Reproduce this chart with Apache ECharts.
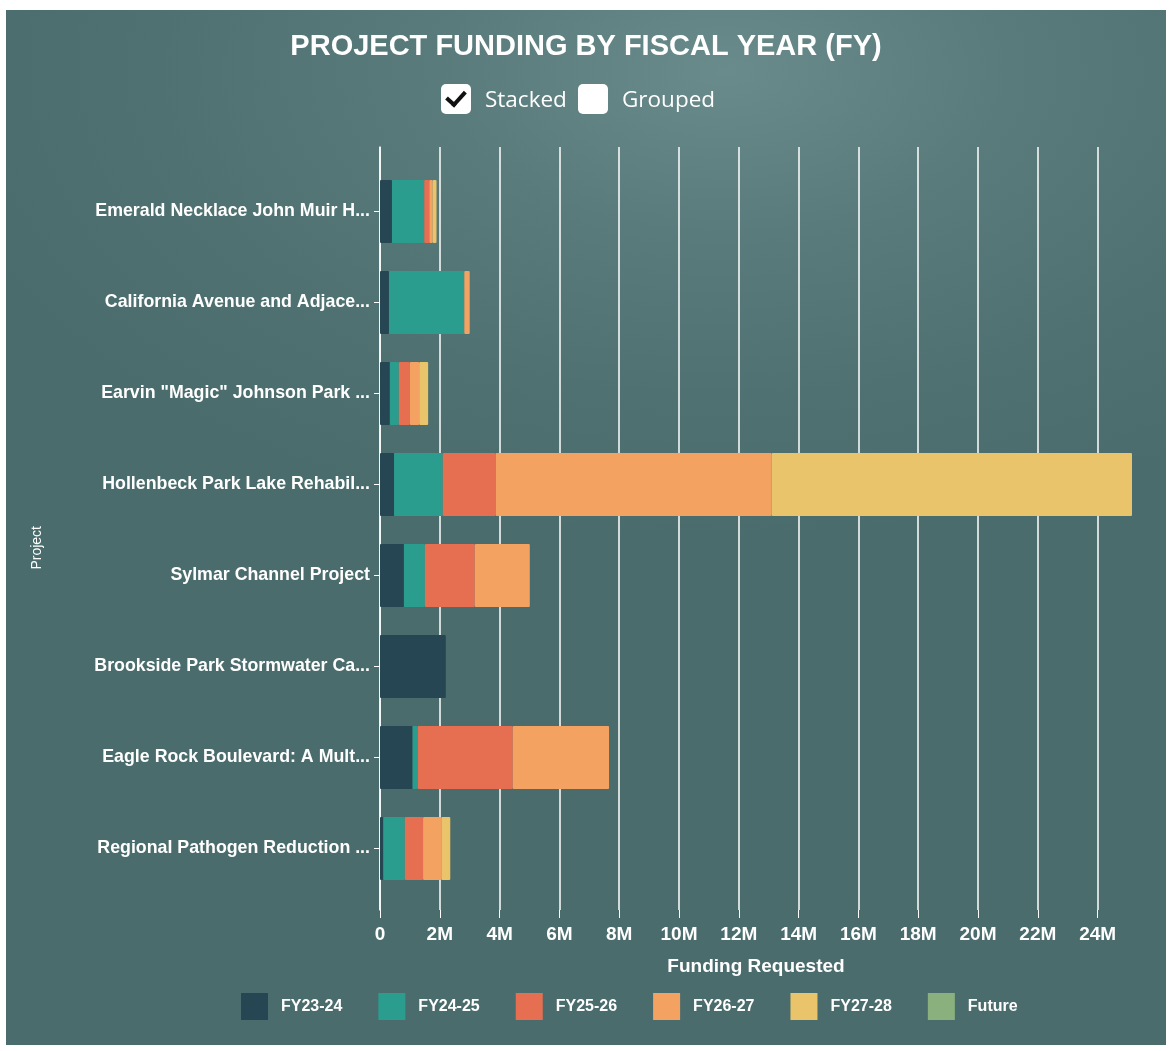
<!DOCTYPE html>
<html>
<head>
<meta charset="utf-8">
<script src="https://cdn.jsdelivr.net/npm/echarts@6/dist/echarts.min.js"></script>
<style>
  html, body { margin: 0; padding: 0; background: #ffffff; width: 1172px; height: 1051px; overflow: hidden; }
  #bg { position: absolute; left: 6px; top: 10px; width: 1160px; height: 1035px;
        background: radial-gradient(ellipse 70% 45% at 62% 6%, #6a8b8b 0%, #5a7b7b 35%, #4f7171 70%, #4b6c6c 100%); }
  #chart { position: absolute; left: 0; top: 0; width: 1172px; height: 1051px; }
  .cb { position: absolute; top: 84px; width: 30px; height: 30px; background: #fff; border-radius: 5px; }
  .cb.checked::after { content: ""; position: absolute; left: 9px; top: 3px; width: 8px; height: 15px;
        border: solid #111; border-width: 0 4px 4px 0; transform: rotate(42deg); }
  .cbl { position: absolute; top: 84px; height: 30px; line-height: 30px; color: #fff;
        font-family: "Open Sans", "Noto Sans", sans-serif; font-size: 22.5px; }
</style>
</head>
<body>
<div id="bg"></div>
<div id="chart"></div>
<div class="cb checked" style="left:441px"></div>
<div class="cbl" style="left:485px">Stacked</div>
<div class="cb" style="left:578px"></div>
<div class="cbl" style="left:622px">Grouped</div>
<script>
const projects = [
  'Emerald Necklace John Muir H...',
  'California Avenue and Adjace...',
  'Earvin "Magic" Johnson Park ...',
  'Hollenbeck Park Lake Rehabil...',
  'Sylmar Channel Project',
  'Brookside Park Stormwater Ca...',
  'Eagle Rock Boulevard: A Mult...',
  'Regional Pathogen Reduction ...'
];
const seriesNames = ['FY23-24', 'FY24-25', 'FY25-26', 'FY26-27', 'FY27-28', 'Future'];
const fy2324 = [400000, 300000, 330000, 470000, 800000, 2200000, 1090000, 110000];
const fy2425 = [1080000, 2520000, 300000, 1630000, 700000, 0, 170000, 720000];
const fy2526 = [170000, 0, 370000, 1770000, 1670000, 0, 3180000, 610000];
const fy2627 = [110000, 180000, 310000, 9230000, 1840000, 0, 3220000, 610000];
const fy2728 = [130000, 0, 300000, 12050000, 0, 0, 0, 300000];
const future = [0, 0, 0, 0, 0, 0, 0, 0];
const tickValues = [0, 2000000, 4000000, 6000000, 8000000, 10000000, 12000000,
  14000000, 16000000, 18000000, 20000000, 22000000, 24000000];
const colors = ['#264653', '#2a9d8f', '#e76f51', '#f4a261', '#e9c46a', '#8ab17d'];

const allSeries = [fy2324, fy2425, fy2526, fy2627, fy2728, future];
const totals = projects.map((_, i) => allSeries.reduce((s, a) => s + a[i], 0));
const maxTotal = Math.max.apply(null, totals);

const chart = echarts.init(document.getElementById('chart'), null, { renderer: 'canvas' });
const labelFont = { color: '#ffffff', fontFamily: '"Liberation Sans", Arial, sans-serif', fontWeight: 'bold' };

chart.setOption({
  backgroundColor: 'transparent',
  animation: false,
  color: colors,
  title: {
    text: 'PROJECT FUNDING BY FISCAL YEAR (FY)',
    left: 'center', top: 27,
    textStyle: { color: '#ffffff', fontSize: 29, fontWeight: 'bold', fontFamily: '"Liberation Sans", Arial, sans-serif' }
  },
  legend: {
    data: seriesNames,
    bottom: 26, left: 236,
    itemWidth: 27, itemHeight: 27, itemGap: 36,
    textStyle: Object.assign({ fontSize: 16, padding: [0, 0, 0, 8] }, labelFont),
    icon: 'rect'
  },
  graphic: [{
    type: 'text', left: 30, top: 526, rotation: Math.PI / 2,
    style: { text: 'Project', fill: '#ffffff', font: '14px "Liberation Sans", Arial, sans-serif' }
  }],
  grid: [
    { left: 380, right: 40, top: 147, height: 763 },
    { left: 380, right: 40, top: 166, height: 728 }
  ],
  xAxis: [
    {
      gridIndex: 0, type: 'value', min: 0, max: maxTotal, interval: 2000000,
      name: 'Funding Requested', nameLocation: 'middle', nameGap: 47,
      nameTextStyle: Object.assign({ fontSize: 19 }, labelFont),
      axisLine: { show: false },
      axisTick: { show: true, length: 8, lineStyle: { color: '#ffffff' }, customValues: tickValues },
      axisLabel: Object.assign({ fontSize: 19, margin: 15, customValues: tickValues,
        formatter: v => v === 0 ? '0' : (v / 1000000) + 'M' }, labelFont),
      splitLine: { show: true, lineStyle: { color: '#ffffff', width: 1.5 } }
    },
    {
      gridIndex: 1, type: 'value', min: 0, max: maxTotal, show: false
    }
  ],
  yAxis: [
    {
      gridIndex: 0, type: 'value', min: 0, max: 1,
      axisLine: { show: true, lineStyle: { color: '#ffffff', width: 1.5 } },
      axisTick: { show: false }, axisLabel: { show: false }, splitLine: { show: false }
    },
    {
      gridIndex: 1, type: 'category', data: projects, inverse: true,
      axisLine: { show: false },
      axisTick: { show: true, alignWithLabel: true, length: 6, lineStyle: { color: '#ffffff' } },
      axisLabel: Object.assign({ fontSize: 17.8, margin: 10 }, labelFont)
    }
  ],
  series: allSeries.map((arr, k) => ({
    name: seriesNames[k], type: 'bar', stack: 'total',
    xAxisIndex: 1, yAxisIndex: 1,
    barWidth: 63,
    itemStyle: { color: colors[k], borderRadius: 1 },
    data: arr
  }))
});
</script>
</body>
</html>
